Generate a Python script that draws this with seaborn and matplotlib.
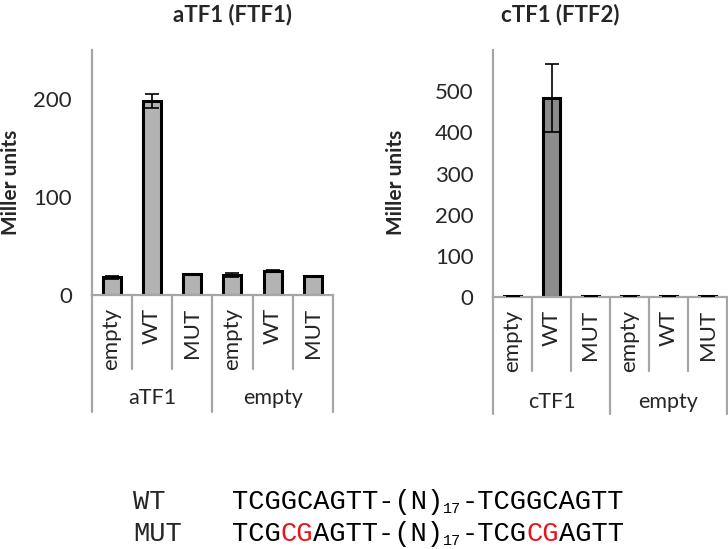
import matplotlib
matplotlib.use('Agg')
import matplotlib.pyplot as plt
import seaborn as sns
import pandas as pd
import numpy as np

# data
groups_a = ['aTF1', 'aTF1', 'aTF1', 'empty', 'empty', 'empty']
groups_c = ['cTF1', 'cTF1', 'cTF1', 'empty', 'empty', 'empty']
constructs = ['empty', 'WT', 'MUT', 'empty', 'WT', 'MUT']

atf1_values = [18, 198, 21, 20, 24.5, 19]
atf1_errors = [1.5, 7, 0.5, 2, 1, 0.5]
ctf1_values = [2, 484, 2, 2, 2, 2]
ctf1_errors = [0.5, 82, 0.5, 0.5, 0.5, 0.5]

atf1_ticks = [0, 100, 200]
ctf1_ticks = [0, 100, 200, 300, 400, 500]

GRAY = '#a6a6a6'


def make_frame(groups, values, errors):
    return pd.DataFrame({
        'bar': [f'{g}|{c}' for g, c in zip(groups, constructs)],
        'group': groups,
        'construct': constructs,
        'value': values,
        'err': errors,
    })


def draw_panel(ax, df, color, ylim, ticks, short_y, long_y, group_y):
    sns.barplot(data=df, x='bar', y='value', ax=ax, color=color,
                saturation=1, width=0.45, edgecolor='black',
                linewidth=2.2, errorbar=None)
    ax.errorbar(range(len(df)), df['value'], yerr=df['err'], fmt='none',
                ecolor='black', elinewidth=1.2, capsize=5, capthick=1.2,
                zorder=4)
    ax.set_xlim(-0.5, len(df) - 0.5)
    ax.set_ylim(*ylim)
    ax.set_yticks(ticks)
    ax.set_xlabel('')
    ax.set_ylabel('')
    ax.set_xticks(range(len(df)))
    ax.set_xticklabels(df['construct'], rotation=90, va='top', ha='center')
    ax.tick_params(axis='x', length=0, pad=9, labelsize=16)
    ax.tick_params(axis='y', length=6, width=1.5, color=GRAY, labelsize=16,
                   pad=8)
    for side in ['top', 'right']:
        ax.spines[side].set_visible(False)
    for side in ['left', 'bottom']:
        ax.spines[side].set_color(GRAY)
        ax.spines[side].set_linewidth(1.6)
    ax.grid(False)

    # category table lines under the axis
    trans = ax.get_xaxis_transform()
    for i, xv in enumerate(np.arange(-0.5, len(df), 1.0)):
        bottom = long_y if i % 3 == 0 else short_y
        ax.plot([xv, xv], [0, bottom], transform=trans, color=GRAY, lw=1.6,
                clip_on=False)
    for name, xc in zip(df['group'].iloc[[0, 3]], [1, 4]):
        ax.text(xc, group_y, name, transform=trans, ha='center',
                va='center', fontsize=15.5)


def draw_pieces(fig, x_px, y_px, pieces):
    renderer = fig.canvas.get_renderer()
    W, H = fig.bbox.width, fig.bbox.height
    for text, color, sub in pieces:
        size = 11 if sub else 19.5
        y = y_px + (4 if sub else 0)
        t = fig.text(x_px / W, 1 - y / H, text, color=color, fontsize=size,
                     family='Liberation Mono', va='baseline', ha='left')
        x_px += t.get_window_extent(renderer).width


sns.set_style('white')
plt.rcParams['font.family'] = ['Lato', 'DejaVu Sans']

fig = plt.figure(figsize=(7.28, 5.49), dpi=100)
W, H = 728, 549

ax1 = fig.add_axes([91.5 / W, 1 - 295 / H, 241.5 / W, 245 / H])
ax2 = fig.add_axes([493 / W, 1 - 297 / H, 234 / W, 247 / H])

draw_panel(ax1, make_frame(groups_a, atf1_values, atf1_errors), '#b3b3b3',
           (0, 250), atf1_ticks, -0.302, -0.476, -0.42)
draw_panel(ax2, make_frame(groups_c, ctf1_values, ctf1_errors), '#8c8c8c',
           (0, 600), ctf1_ticks, -0.298, -0.474, -0.424)

fig.text(233 / W, 1 - 15 / H, 'aTF1 (FTF1)', ha='center', va='center',
         fontsize=16, fontweight='bold')
fig.text(560 / W, 1 - 15 / H, 'cTF1 (FTF2)', ha='center', va='center',
         fontsize=16, fontweight='bold')
fig.text(11 / W, 1 - 182 / H, 'Miller units', rotation=90, ha='center',
         va='center', fontsize=15, fontweight='bold')
fig.text(396 / W, 1 - 182 / H, 'Miller units', rotation=90, ha='center',
         va='center', fontsize=15, fontweight='bold')

# sequence legend
RED = '#e8141c'
fig.text(133 / W, 1 - 509 / H, 'WT', fontsize=19.5, family='Liberation Mono',
         va='baseline')
fig.text(133 / W, 1 - 541 / H, 'MUT', fontsize=19.5, family='Liberation Mono',
         va='baseline')
draw_pieces(fig, 232, 509, [
    ('TCGGCAGTT-(N)', 'black', False),
    ('17', 'black', True),
    ('-TCGGCAGTT', 'black', False),
])
draw_pieces(fig, 232, 541, [
    ('TCG', 'black', False),
    ('CG', RED, False),
    ('AGTT-(N)', 'black', False),
    ('17', 'black', True),
    ('-TCG', 'black', False),
    ('CG', RED, False),
    ('AGTT', 'black', False),
])

fig.savefig('out.png', dpi=100)
plt.close(fig)
